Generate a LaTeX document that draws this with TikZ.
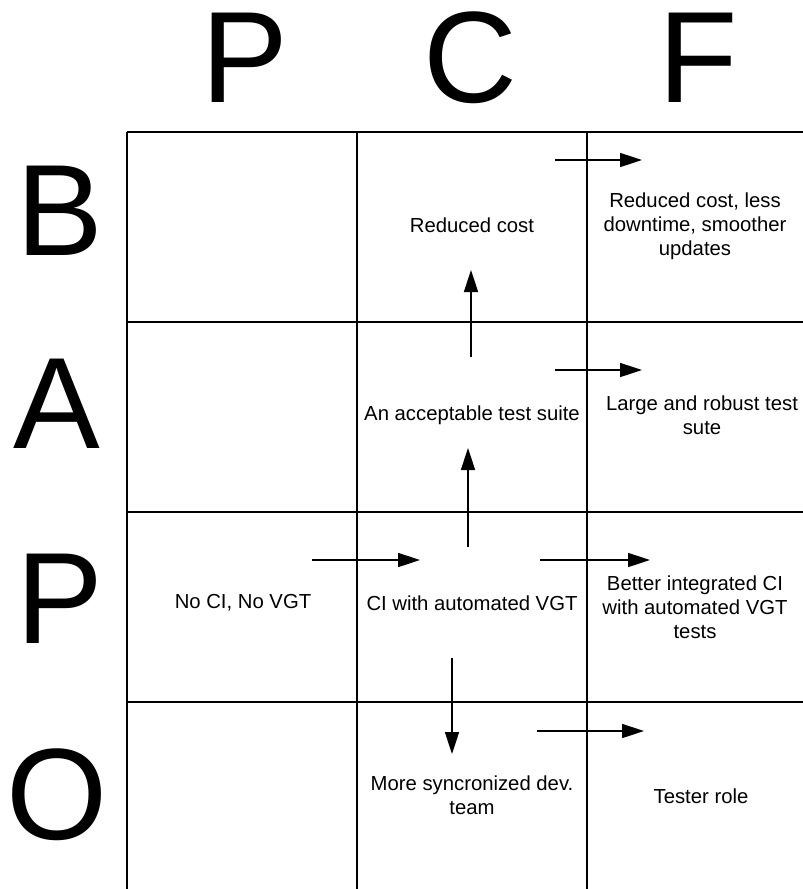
\documentclass[tikz,border=0pt]{standalone}
\usepackage{fontspec}
\setmainfont{Liberation Sans}
\usepackage{tikz}
\usetikzlibrary{arrows.meta, positioning}

\begin{document}
\begin{tikzpicture}[
    x=1pt, y=-1pt,
    every node/.style={font=\fontsize{20.3}{24}\selectfont},
    cell/.style={align=center, inner sep=0pt},
    axis/.style={font=\fontsize{130}{130}\selectfont, inner sep=0pt},
    gridline/.style={line width=1.5pt},
    arrow/.style={-{Triangle[length=22pt, width=14pt]}, line width=1.6pt}
]
\useasboundingbox (0,0) rectangle (803,889);

% Grid
\foreach \x in {127,357,587}
    \draw[gridline] (\x,132) -- (\x,889);
\foreach \y in {132,322,512,702}
    \draw[gridline] (127,\y) -- (803,\y);

% Column and row letters
\node[axis] (colP) at (245,58) {P};
\node[axis] (colC) at (470,58) {C};
\node[axis] (colF) at (698,58) {F};
\node[axis] (rowB) at (60,211) {B};
\node[axis] (rowA) at (57,404) {A};
\node[axis] (rowP) at (60,599) {P};
\node[axis] (rowO) at (57,795) {O};

% Cells
\node[cell] (bc) at (472,225) {Reduced cost};
\node[cell] (bf) at (695,226) {Reduced cost, less\\downtime, smoother\\updates};
\node[cell] (ac) at (472,415) {An acceptable test suite};
\node[cell] (af) at (702,415) {Large and robust test\\sute};
\node[cell] (pp) at (243,603) {No CI, No VGT};
\node[cell] (pc) at (472,603) {CI with automated VGT};
\node[cell] (pf) at (695,607) {Better integrated CI\\with automated VGT\\tests};
\node[cell] (oc) at (472,795) {More syncronized dev.\\team};
\node[cell] (of) at (701,796) {Tester role};

% Arrow ends
\coordinate (bfs) at (555,160);  \coordinate (bfe) at (642,160);
\coordinate (abs) at (471,357);  \coordinate (abe) at (471,270);
\coordinate (afs) at (555,370);  \coordinate (afe) at (642,370);
\coordinate (pas) at (468,547);  \coordinate (pae) at (468,448);
\coordinate (pcs) at (312,560);  \coordinate (pce) at (420,560);
\coordinate (pfs) at (540,560);  \coordinate (pfe) at (650,560);
\coordinate (pos) at (452,658);  \coordinate (poe) at (452,754);
\coordinate (ofs) at (537,731);  \coordinate (ofe) at (644,731);

% Arrows
\draw[arrow] (bfs) -- (bfe);
\draw[arrow] (abs) -- (abe);
\draw[arrow] (afs) -- (afe);
\draw[arrow] (pas) -- (pae);
\draw[arrow] (pcs) -- (pce);
\draw[arrow] (pfs) -- (pfe);
\draw[arrow] (pos) -- (poe);
\draw[arrow] (ofs) -- (ofe);

\end{tikzpicture}
\end{document}
